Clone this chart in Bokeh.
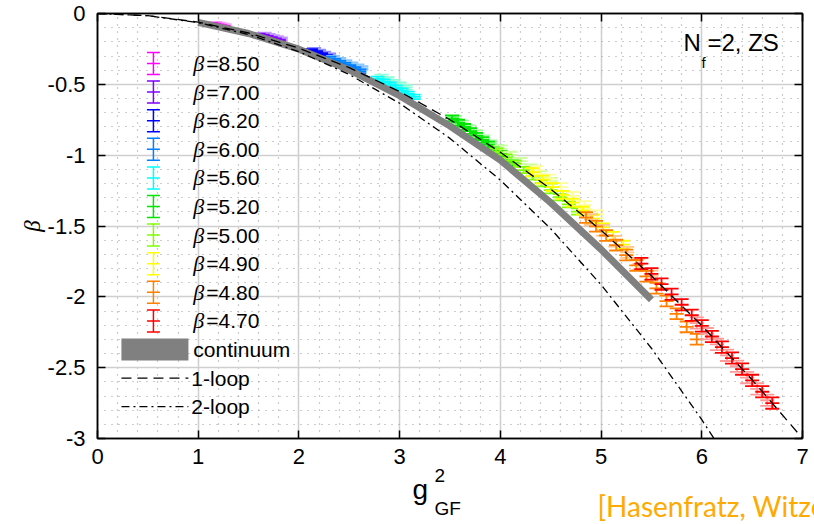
import numpy as np
from bokeh.plotting import figure
from bokeh.models import (SingleIntervalTicker, CustomJSTickFormatter, LinearAxis,
                          Label, Range1d)
from bokeh.core.properties import value
from bokeh.embed import file_html
from bokeh.resources import INLINE

# ---------------- data ----------------
beta_labels = ["8.50", "7.00", "6.20", "6.00", "5.60", "5.20", "5.00", "4.90", "4.80", "4.70"]
main_colors = ["#ff00ff", "#8000ff", "#0000ff", "#0080ff", "#00ffff",
               "#00e600", "#80ff00", "#ffff00", "#ff8000", "#ff0000"]
light_colors = ["#ff99ff", "#c499ff", "#8c8cff", "#8cc6ff", "#8cffd6",
                "#99ff99", "#ccff99", "#ffff99", "#ffc48c", "#ff9999"]

x_850 = [1.13, 1.16, 1.19, 1.22, 1.25]
y_850 = [-0.075, -0.080, -0.085, -0.090, -0.095]
xl_850 = [1.17, 1.20, 1.23, 1.26]
yl_850 = [-0.068, -0.073, -0.078, -0.083]
err_850 = 0.008

x_700 = [1.60, 1.64, 1.68, 1.72, 1.76, 1.80]
y_700 = [-0.152, -0.160, -0.168, -0.177, -0.185, -0.194]
xl_700 = [1.66, 1.70, 1.74, 1.78, 1.82]
yl_700 = [-0.146, -0.154, -0.162, -0.170, -0.178]
err_700 = 0.010

x_620 = [2.12, 2.17, 2.22, 2.27, 2.32, 2.37, 2.42]
y_620 = [-0.264, -0.278, -0.292, -0.306, -0.320, -0.334, -0.349]
xl_620 = [2.15, 2.20, 2.25, 2.30]
yl_620 = [-0.255, -0.268, -0.281, -0.294]
err_620 = 0.012

x_600 = [2.30, 2.35, 2.40, 2.45, 2.50, 2.55, 2.60]
y_600 = [-0.318, -0.333, -0.347, -0.362, -0.377, -0.392, -0.408]
xl_600 = [2.34, 2.40, 2.46, 2.52, 2.58, 2.62]
yl_600 = [-0.312, -0.327, -0.342, -0.358, -0.373, -0.385]
err_600 = 0.013

x_560 = [2.78, 2.84, 2.90, 2.96, 3.02, 3.08, 3.14]
y_560 = [-0.462, -0.482, -0.503, -0.524, -0.545, -0.567, -0.589]
xl_560 = [2.82, 2.88, 2.94, 3.00, 3.06]
yl_560 = [-0.447, -0.465, -0.484, -0.503, -0.522]
err_560 = 0.016

x_520 = [3.52, 3.58, 3.64, 3.70, 3.76, 3.82, 3.88, 3.94, 4.00, 4.06, 4.12]
y_520 = [-0.740, -0.770, -0.800, -0.830, -0.862, -0.893, -0.925, -0.957, -0.990, -1.023, -1.057]
xl_520 = [3.55, 3.62, 3.69, 3.76, 3.83, 3.90, 3.97]
yl_520 = [-0.742, -0.776, -0.810, -0.845, -0.880, -0.915, -0.950]
err_520 = 0.020

x_500 = [3.96, 4.05, 4.14, 4.23, 4.32, 4.41, 4.50, 4.59, 4.68, 4.77]
y_500 = [-0.975, -1.017, -1.060, -1.105, -1.150, -1.198, -1.247, -1.297, -1.347, -1.398]
xl_500 = [4.00, 4.10, 4.20, 4.30, 4.40, 4.50]
yl_500 = [-0.955, -0.998, -1.042, -1.088, -1.135, -1.183]
err_500 = 0.022

x_490 = [4.32, 4.42, 4.52, 4.62, 4.72, 4.82, 4.92, 5.02, 5.12, 5.22]
y_490 = [-1.120, -1.172, -1.225, -1.280, -1.335, -1.392, -1.450, -1.510, -1.570, -1.632]
xl_490 = [4.36, 4.48, 4.60, 4.72, 4.84, 4.96]
yl_490 = [-1.105, -1.165, -1.226, -1.288, -1.352, -1.417]
err_490 = 0.028

x_480 = [4.85, 4.95, 5.05, 5.15, 5.25, 5.35, 5.45, 5.55, 5.65, 5.75, 5.85, 5.95]
y_480 = [-1.440, -1.502, -1.567, -1.635, -1.705, -1.778, -1.855, -1.940, -2.030, -2.120, -2.212, -2.300]
xl_480 = [4.90, 5.02, 5.14, 5.26, 5.38, 5.50]
yl_480 = [-1.455, -1.530, -1.607, -1.686, -1.768, -1.852]
err_480 = 0.038

x_470 = [5.40, 5.50, 5.60, 5.70, 5.80, 5.90, 6.00, 6.10, 6.20, 6.30, 6.40, 6.50, 6.60, 6.70]
y_470 = [-1.765, -1.838, -1.910, -1.982, -2.056, -2.130, -2.205, -2.280, -2.355, -2.432, -2.510, -2.590, -2.670, -2.750]
xl_470 = [5.95, 6.05, 6.15, 6.25, 6.35, 6.45, 6.55, 6.65]
yl_470 = [-2.185, -2.260, -2.336, -2.413, -2.490, -2.570, -2.650, -2.730]
err_470 = 0.040

x_cont = [1.0, 1.5, 2.0, 2.5, 3.0, 3.5, 4.0, 4.5, 5.0, 5.5]
y_cont = [-0.063, -0.141, -0.252, -0.398, -0.580, -0.795, -1.035, -1.335, -1.665, -2.020]

x_1loop = [0.0, 0.5, 1.0, 1.5, 2.0, 2.5, 3.0, 3.5, 4.0, 4.5, 5.0, 5.5, 6.0, 6.5, 7.0]
y_1loop = [0.0, -0.0153, -0.0612, -0.1377, -0.2448, -0.3825, -0.5508, -0.7497,
           -0.9792, -1.2393, -1.5300, -1.8513, -2.2032, -2.5857, -2.9988]

x_2loop = [0.0, 0.5, 1.0, 1.5, 2.0, 2.5, 3.0, 3.5, 4.0, 4.5, 5.0, 5.5, 6.0, 6.25]
y_2loop = [0.0, -0.0157, -0.0643, -0.1481, -0.2694, -0.4305, -0.6338, -0.8815,
           -1.1760, -1.5195, -1.9144, -2.3629, -2.8674, -3.1413]

series = [
    (x_850, y_850, xl_850, yl_850, err_850),
    (x_700, y_700, xl_700, yl_700, err_700),
    (x_620, y_620, xl_620, yl_620, err_620),
    (x_600, y_600, xl_600, yl_600, err_600),
    (x_560, y_560, xl_560, yl_560, err_560),
    (x_520, y_520, xl_520, yl_520, err_520),
    (x_500, y_500, xl_500, yl_500, err_500),
    (x_490, y_490, xl_490, yl_490, err_490),
    (x_480, y_480, xl_480, yl_480, err_480),
    (x_470, y_470, xl_470, yl_470, err_470),
]

# ---------------- figure ----------------
FONT = "Liberation Sans"
p = figure(width=814, height=524, x_range=Range1d(0, 7), y_range=Range1d(-3, 0),
           output_backend="svg", toolbar_location=None,
           min_border_left=96, min_border_right=12, min_border_top=13, min_border_bottom=86)
p.background_fill_color = "white"
p.border_fill_color = "white"
p.outline_line_color = "black"
p.outline_line_width = 1.5

xt = SingleIntervalTicker(interval=1, num_minor_ticks=5)
yt = SingleIntervalTicker(interval=0.5, num_minor_ticks=5)
fmt = CustomJSTickFormatter(code="return tick.toString()")

for ax, tk in ((p.xaxis[0], xt), (p.yaxis[0], yt)):
    ax.ticker = tk
    ax.formatter = fmt
    ax.major_tick_in = 8
    ax.major_tick_out = 0
    ax.minor_tick_in = 0
    ax.minor_tick_out = 0
    ax.axis_line_width = 1.5
    ax.major_tick_line_width = 1.5
    ax.major_label_text_font = FONT
    ax.major_label_text_font_size = "22px"
    ax.major_label_text_color = "black"
p.xaxis[0].major_label_standoff = 10
p.yaxis[0].major_label_standoff = 12
p.yaxis[0].axis_label = "β"
p.yaxis[0].axis_label_text_font = "Liberation Serif"
p.yaxis[0].axis_label_text_font_style = "italic"
p.yaxis[0].axis_label_text_font_size = "23px"
p.yaxis[0].axis_label_text_color = "black"
p.yaxis[0].axis_label_standoff = 0

for loc, tk in (("above", xt), ("right", yt)):
    ax = LinearAxis(ticker=tk, formatter=CustomJSTickFormatter(code="return ''"),
                    major_tick_in=8, major_tick_out=0, minor_tick_in=0, minor_tick_out=0,
                    major_label_text_font_size="0px", major_label_standoff=0,
                    axis_line_width=1.5, major_tick_line_width=1.5)
    p.add_layout(ax, loc)

for g, tk in ((p.xgrid[0], xt), (p.ygrid[0], yt)):
    g.ticker = tk
    g.grid_line_color = "#cfcfcf"
    g.grid_line_width = 1.5
    g.minor_grid_line_color = "#9a9a9a"
    g.minor_grid_line_width = 1.2
    g.minor_grid_line_dash = "1 6"


def draw_err(xs, ys, err, color, size=14, lw=1.8):
    xs = np.asarray(xs, dtype=float)
    ys = np.asarray(ys, dtype=float)
    p.segment(xs, ys - err, xs, ys + err, line_color=color, line_width=lw)
    for yy in (ys - err, ys + err, ys):
        p.scatter(xs, yy, marker="dash", size=size, line_color=color, line_width=lw)


for (xs, ys, xls, yls, err), c, lc in zip(series, main_colors, light_colors):
    draw_err(xls, yls, err, lc)
    draw_err(xs, ys, err, c)

p.line(x_cont, y_cont, line_color="#808080", line_width=7)
p.line(x_1loop, y_1loop, line_color="black", line_width=1.3, line_dash="10 6")
p.line(x_2loop, y_2loop, line_color="black", line_width=1.3, line_dash="8 4 2 4")

# ---------------- legend (built by hand) ----------------
FL, FT, FW, FH = 96.0, 13.0, 706.0, 425.0


def dx(px):
    return (px - FL) / FW * 7.0


def dy(py):
    return -(py - FT) / FH * 3.0


rows = [63 + 28.6 * i for i in range(13)]
err_leg = 11.0 / FH * 3.0
for i, c in enumerate(main_colors):
    draw_err([dx(152)], [dy(rows[i])], err_leg, c, size=13, lw=1.5)

p.text(x=[dx(192)] * 10, y=[dy(r) for r in rows[:10]], text=["β"] * 10,
       text_font=value("Liberation Serif"), text_font_style="italic",
       text_font_size="22px", text_baseline="middle", text_color="black")
p.text(x=[dx(205)] * 10, y=[dy(r) for r in rows[:10]], text=["=" + b for b in beta_labels],
       text_font=value(FONT), text_font_size="21px", text_baseline="middle", text_color="black")

p.rect(x=[dx(153.5)], y=[dy(rows[10])], width=67, height=22, width_units="screen",
       height_units="screen", fill_color="#808080", line_color=None)
p.segment(x0=[dx(120)], y0=[dy(rows[11])], x1=[dx(187)], y1=[dy(rows[11])],
          line_color="black", line_width=1.3, line_dash="10 6")
p.segment(x0=[dx(120)], y0=[dy(rows[12])], x1=[dx(187)], y1=[dy(rows[12])],
          line_color="black", line_width=1.3, line_dash="8 4 2 4")
p.text(x=[dx(192), dx(190), dx(190)], y=[dy(r) for r in rows[10:]],
       text=["continuum", "1-loop", "2-loop"], text_font=value(FONT),
       text_font_size="21px", text_baseline="middle", text_color="black")

# ---------------- annotations ----------------
FB = FT + FH  # frame bottom in canvas px


def lab(text, px, py, size, font=FONT):
    p.add_layout(Label(x=px - FL, y=FB - py, x_units="screen", y_units="screen", text=text,
                       text_font=font, text_font_size=size, text_baseline="middle",
                       text_align="left", text_color="black"))


lab("N", 682, 42, "24px")
lab("f", 700, 62, "15px")
lab("=2, ZS", 706, 42, "24px")


def lab_out(text, px, py, size, place, font=FONT, color="black"):
    # texts outside the frame sit in side panels (not clipped); canvas units = absolute px
    p.add_layout(Label(x=px, y=py, x_units="canvas", y_units="canvas", text=text,
                       text_font=font, text_font_size=size, text_baseline="middle",
                       text_align="left", text_color=color), place)


lab_out("g", 412, 489, "28px", "left")
lab_out("2", 434, 475, "19px", "right")
lab_out("GF", 434, 508, "19px", "below")
lab_out("[Hasenfratz, Witzel]", 597, 505, "28px", "below", font="Lato", color="#ffaa00")

open("out.html", "w").write(file_html(p, INLINE))
